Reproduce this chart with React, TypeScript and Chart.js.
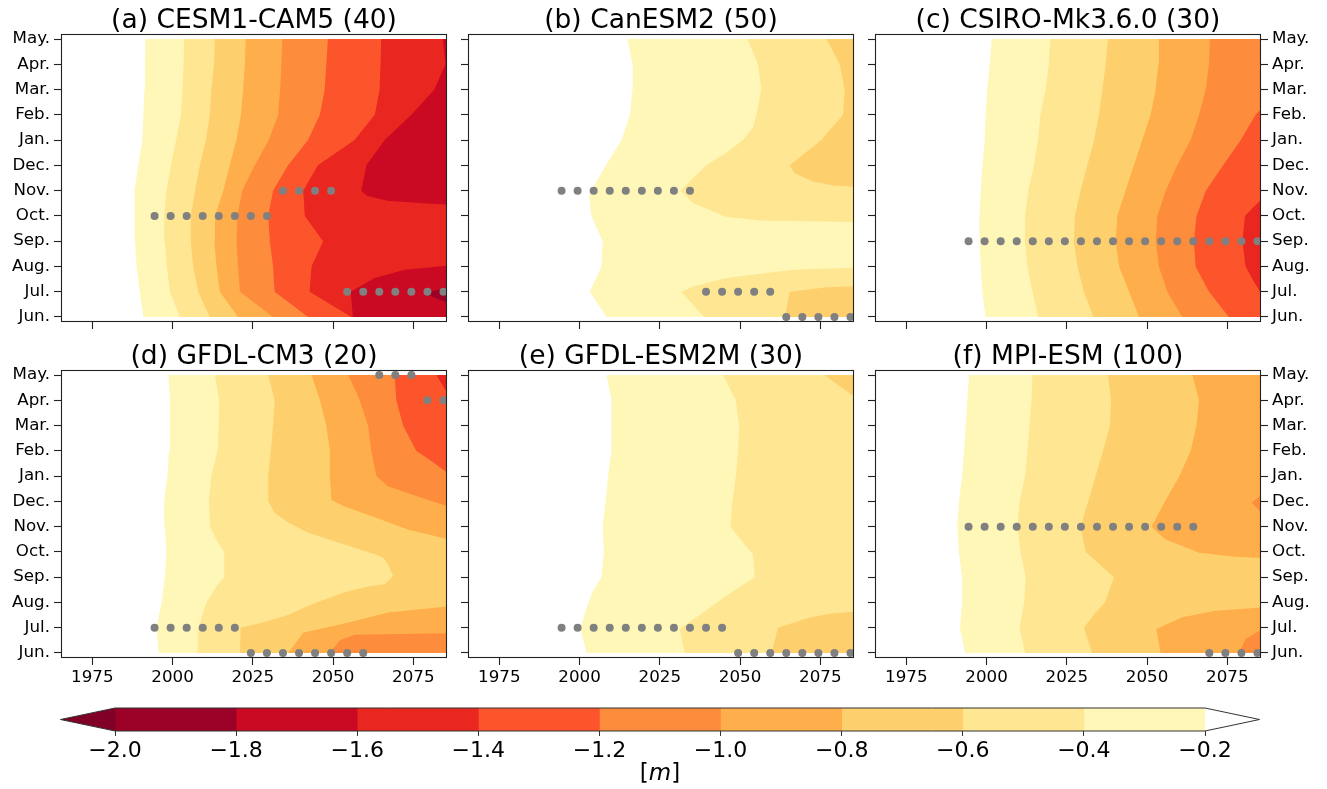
import React, { useEffect, useRef } from 'react';
import { Chart, registerables } from 'chart.js';

Chart.register(...registerables);
Chart.defaults.font.family = "'DejaVu Sans', sans-serif";
Chart.defaults.color = '#000';

// ------------------------------------------------------------------ data
const MONTHS = ['Jun.', 'Jul.', 'Aug.', 'Sep.', 'Oct.', 'Nov.', 'Dec.', 'Jan.', 'Feb.', 'Mar.', 'Apr.', 'May.'];
const YEAR_TICKS = [1975, 2000, 2025, 2050, 2075];
const YEAR_MIN = 1965.25;
const YEAR_MAX = 2085.5;
const MONTH_MIN = -0.2;
const MONTH_MAX = 11.2;
const EDGE = 2086; // contour lies beyond the right edge for that month
const LEVELS = [-2.0, -1.8, -1.6, -1.4, -1.2, -1.0, -0.8, -0.6, -0.4, -0.2];
const BAND_COLORS = [
  'rgb(155,0,38)', 'rgb(202,9,35)', 'rgb(233,38,31)', 'rgb(252,85,44)', 'rgb(253,141,60)',
  'rgb(254,174,74)', 'rgb(254,208,109)', 'rgb(255,230,146)', 'rgb(255,247,184)',
];
const UNDER_COLOR = 'rgb(128,0,38)';
const OVER_COLOR = '#ffffff';

// Contour boundaries (year where each level is crossed), listed from -0.2 m downwards.
// Plain arrays: one year per month Jun..May. Pair arrays: [month index, year].
const CESM_BOUNDS = [
  [1990.9, 1989.8, 1988.8, 1988.3, 1988.0, 1988.3, 1989.3, 1990.6, 1990.9, 1991.2, 1991.4, 1991.6],
  [2002.3, 1999.2, 1998.2, 1997.6, 1997.4, 1998.1, 1999.5, 2001.1, 2002.6, 2003.1, 2003.4, 2003.6],
  [2011.6, 2008.0, 2006.4, 2005.7, 2005.7, 2007.0, 2008.5, 2010.4, 2011.6, 2012.1, 2012.9, 2013.2],
  [2020.4, 2014.7, 2013.7, 2013.0, 2013.2, 2015.8, 2017.8, 2019.9, 2021.3, 2022.0, 2022.5, 2022.8],
  [2031.3, 2021.0, 2020.4, 2019.9, 2020.2, 2021.7, 2025.6, 2030.0, 2032.9, 2033.5, 2033.9, 2034.2],
  [2042.2, 2031.8, 2031.3, 2030.3, 2029.8, 2031.3, 2036.0, 2042.2, 2045.9, 2047.4, 2047.9, 2048.4],
  [2055.7, 2042.7, 2043.3, 2046.9, 2041.2, 2040.7, 2045.3, 2056.7, 2063.0, 2064.5, 2064.8, 2065.0],
  [[0, 2056.2], [1, 2055.5], [1.54, 2063.0], [1.87, 2072.3], [2.03, EDGE], [4.45, EDGE], [4.5, 2078.0], [4.6, 2067.0], [4.8, 2060.5], [5, 2058.8], [6, 2060.4], [7, 2066.1], [8, 2074.4], [9, 2081.6], [10, 2085.0], [11, 2084.2]],
  [[0.55, EDGE], [0.95, 2077.9], [1.15, EDGE]],
];
const CAN_BOUNDS = [
  [[0, 2008.4], [1, 2003.2], [2, 2006.8], [3, 2007.2], [4, 2003.7], [4.77, 2003.0], [5, 2003.6], [6, 2008.2], [7, 2013.1], [8, 2015.7], [9, 2016.5], [10, 2016.5], [11, 2014.9]],
  [[0, 2038.8], [1, 2031.7], [1.21, 2035.4], [1.54, 2045.7], [1.87, 2066.5], [1.95, EDGE], [3.76, EDGE], [3.82, 2056.1], [3.97, 2045.7], [4.5, 2035.4], [5, 2031.5], [5.5, 2035.4], [6, 2039.5], [6.5, 2045.7], [7, 2050.9], [7.5, 2054.0], [8, 2055.1], [9, 2056.6], [10, 2055.6], [11, 2052.3]],
  [[0, 2063.9], [1, 2065.5], [1.18, 2076.9], [1.22, EDGE], [5.15, EDGE], [5.2, 2078.9], [5.36, 2072.7], [5.69, 2067.0], [6, 2065.5], [7, 2075.3], [8, 2082.1], [9, 2082.6], [10, 2081.0], [11, 2076.9]],
];
const CSIRO_BOUNDS = [
  [1999.7, 1998.7, 1998.2, 1997.8, 1997.8, 1998.2, 1998.7, 1999.4, 1999.7, 2000.2, 2001.0, 2001.6],
  [2016.1, 2014.3, 2012.7, 2012.0, 2012.0, 2013.0, 2014.8, 2016.0, 2016.8, 2018.4, 2019.4, 2019.8],
  [2033.3, 2030.3, 2028.3, 2027.2, 2027.5, 2029.3, 2031.4, 2033.5, 2035.0, 2036.1, 2037.1, 2037.8],
  [2047.5, 2044.4, 2041.3, 2040.2, 2040.7, 2043.3, 2045.9, 2048.5, 2051.1, 2052.7, 2053.5, 2053.7],
  [2061.0, 2056.3, 2053.7, 2052.7, 2053.2, 2055.8, 2059.4, 2063.6, 2066.2, 2068.3, 2069.3, 2069.6],
  [[0, 2075.5], [1, 2069.3], [2, 2065.1], [3, 2064.6], [4, 2065.4], [5, 2068.3], [6, 2073.7], [7, 2079.2], [8, 2083.8], [8.3, EDGE]],
  [[0.8, EDGE], [1, 2085.2], [1.5, 2082.8], [2, 2080.7], [3, 2079.7], [4, 2080.5], [4.3, 2082.8], [4.6, 2085.2], [4.8, EDGE]],
];
const CM3_BOUNDS = [
  [1995.7, 1995.0, 1996.6, 1997.6, 1998.1, 1997.6, 1997.4, 1998.4, 1998.9, 1999.2, 1999.2, 1998.7],
  [[0, 2007.8], [1, 2008.0], [2, 2010.6], [2.7, 2014.0], [3, 2016.1], [4, 2016.1], [4.4, 2014.0], [5, 2011.7], [6, 2011.3], [7, 2012.1], [8, 2014.0], [9, 2014.4], [10, 2014.5], [11, 2013.2]],
  [[0, 2021.0], [1, 2021.2], [1.2, 2027.7], [1.5, 2036.0], [1.87, 2042.2], [2.4, 2053.6], [2.63, 2060.9], [2.72, 2066.1], [3.05, 2068.7], [3.5, 2067.1], [3.78, 2065.6], [3.91, 2063.0], [4.37, 2051.6], [4.76, 2042.2], [5.16, 2036.0], [5.55, 2031.8], [6, 2029.8], [7, 2029.8], [8, 2030.6], [9, 2031.3], [10, 2031.8], [11, 2029.8]],
  [[0, 2036.0], [0.8, 2040.7], [1.2, 2054.6], [1.6, 2067.1], [1.85, EDGE], [4.5, EDGE], [4.89, 2073.3], [5.42, 2061.9], [5.8, 2053.6], [6.05, 2049.5], [7, 2049.0], [8, 2049.0], [9, 2047.9], [10, 2045.9], [11, 2043.3]],
  [[0, 2049.0], [0.5, 2052.1], [0.72, 2056.7], [0.78, EDGE], [5.8, EDGE], [6.14, 2077.5], [6.6, 2067.1], [7, 2063.5], [8, 2061.9], [9, 2060.9], [10, 2058.3], [10.3, 2057.3], [11, 2054.7]],
  [[7.1, EDGE], [7.6, 2080.6], [8, 2075.9], [9, 2071.8], [10, 2069.7], [11, 2069.2]],
  [[10.2, EDGE], [11, 2082.2]],
];
const ESM2M_BOUNDS = [
  [[0, 2002.2], [0.95, 2000.3], [1.6, 2001.7], [2.4, 2004.0], [3, 2006.8], [4, 2007.6], [5, 2007.2], [6, 2008.1], [7, 2008.9], [8, 2009.9], [9, 2010.0], [10, 2009.9], [11, 2008.4]],
  [[0, 2032.8], [0.95, 2031.2], [1.6, 2038.5], [2.26, 2045.7], [3, 2054.6], [3.5, 2054.3], [3.91, 2054.0], [4.37, 2050.9], [5, 2047.0], [6, 2047.6], [7, 2048.7], [8, 2049.4], [9, 2049.7], [10, 2048.7], [11, 2044.7]],
  [[0, 2059.8], [1, 2061.8], [1.4, 2071.7], [1.55, 2077.9], [1.65, EDGE], [10.1, EDGE], [11, 2076.3]],
];
const MPI_BOUNDS = [
  [1993.3, 1991.7, 1992.4, 1992.4, 1991.4, 1990.9, 1991.4, 1992.4, 1993.0, 1993.5, 1994.0, 1994.5],
  [2012.0, 2010.3, 2011.7, 2012.2, 2010.6, 2009.6, 2010.3, 2012.0, 2012.7, 2013.4, 2014.0, 2014.3],
  [[0, 2032.9], [1, 2030.3], [1.6, 2034.0], [2, 2036.9], [3, 2039.7], [4, 2030.9], [5, 2029.3], [6, 2031.7], [7, 2034.0], [8, 2036.3], [9, 2038.4], [10, 2038.8], [11, 2037.8]],
  [[0, 2054.2], [0.95, 2052.9], [1.41, 2061.0], [1.67, 2071.4], [1.8, EDGE], [3.76, EDGE], [3.82, 2076.6], [3.97, 2066.2], [4.5, 2055.6], [5, 2051.4], [6, 2055.6], [7, 2060.1], [8, 2063.6], [9, 2065.4], [10, 2066.2], [11, 2064.1]],
  [[0, 2078.6], [0.55, 2080.7], [0.95, EDGE], [5.5, EDGE], [5.95, 2082.6], [6.3, EDGE]],
];

// Stippling: [month index, years]
const CESM_DOTS = [
  [5, [2034.4, 2039.4, 2044.4, 2049.4]],
  [4, [1994.4, 1999.4, 2004.4, 2009.4, 2014.4, 2019.4, 2024.4, 2029.4]],
  [1, [2054.4, 2059.4, 2064.4, 2069.4, 2074.4, 2079.4, 2084.4]],
];
const CAN_DOTS = [
  [5, [1994.4, 1999.4, 2004.4, 2009.4, 2014.4, 2019.4, 2024.4, 2029.4, 2034.4]],
  [1, [2039.4, 2044.4, 2049.4, 2054.4, 2059.4]],
  [0, [2064.4, 2069.4, 2074.4, 2079.4, 2084.4]],
];
const CSIRO_DOTS = [
  [3, [1994.4, 1999.4, 2004.4, 2009.4, 2014.4, 2019.4, 2024.4, 2029.4, 2034.4, 2039.4, 2044.4, 2049.4, 2054.4, 2059.4, 2064.4, 2069.4, 2074.4, 2079.4, 2084.4]],
];
const CM3_DOTS = [
  [11, [2064.4, 2069.4, 2074.4]],
  [10, [2079.4, 2084.4]],
  [1, [1994.4, 1999.4, 2004.4, 2009.4, 2014.4, 2019.4]],
  [0, [2024.4, 2029.4, 2034.4, 2039.4, 2044.4, 2049.4, 2054.4, 2059.4]],
];
const ESM2M_DOTS = [
  [1, [1994.4, 1999.4, 2004.4, 2009.4, 2014.4, 2019.4, 2024.4, 2029.4, 2034.4, 2039.4, 2044.4]],
  [0, [2049.4, 2054.4, 2059.4, 2064.4, 2069.4, 2074.4, 2079.4, 2084.4]],
];
const MPI_DOTS = [
  [5, [1994.4, 1999.4, 2004.4, 2009.4, 2014.4, 2019.4, 2024.4, 2029.4, 2034.4, 2039.4, 2044.4, 2049.4, 2054.4, 2059.4, 2064.4]],
  [0, [2069.4, 2074.4, 2079.4, 2084.4]],
];

const PANELS = [
  { title: '(a) CESM1-CAM5 (40)', bounds: CESM_BOUNDS, dots: CESM_DOTS, col: 0, row: 0 },
  { title: '(b) CanESM2 (50)', bounds: CAN_BOUNDS, dots: CAN_DOTS, col: 1, row: 0 },
  { title: '(c) CSIRO-Mk3.6.0 (30)', bounds: CSIRO_BOUNDS, dots: CSIRO_DOTS, col: 2, row: 0 },
  { title: '(d) GFDL-CM3 (20)', bounds: CM3_BOUNDS, dots: CM3_DOTS, col: 0, row: 1 },
  { title: '(e) GFDL-ESM2M (30)', bounds: ESM2M_BOUNDS, dots: ESM2M_DOTS, col: 1, row: 1 },
  { title: '(f) MPI-ESM (100)', bounds: MPI_BOUNDS, dots: MPI_DOTS, col: 2, row: 1 },
];

// ------------------------------------------------------------------ layout / style
const FRAME_LEFTS = [61, 468, 875];
const FRAME_TOPS = [34, 370];
const FRAME_W = 386;
const FRAME_H = 288;
const SIDE = 62;
const TITLE_SPACE = 34;
const XAXIS_SPACE = 35;
const FILL_TARGET = 2100;
const DOT_COLOR = '#808080';
const AXIS_COLOR = '#222';
const TICK_FONT = 16.7;
const TITLE_FONT = 26.5;

const toPoints = (b: any[]) =>
  typeof b[0] === 'number'
    ? b.map((yr: number, m: number) => ({ x: yr, y: m }))
    : b.map(([m, yr]: number[]) => ({ x: yr, y: m }));

const framePlugin = {
  id: 'frame',
  afterDatasetsDraw(chart: any) {
    const { ctx, chartArea } = chart;
    const { left, top, right, bottom } = chartArea;
    ctx.save();
    ctx.strokeStyle = AXIS_COLOR;
    ctx.lineWidth = 1.1;
    ctx.strokeRect(left + 0.5, top + 0.5, right - left - 1, bottom - top - 1);
    ctx.restore();
  },
};

function Panel({ spec }: { spec: any }) {
  const ref = useRef<HTMLCanvasElement>(null);
  const { col, row } = spec;
  const width = SIDE + FRAME_W + SIDE;
  const height = TITLE_SPACE + FRAME_H + XAXIS_SPACE;
  const left = FRAME_LEFTS[col] - SIDE;
  const top = FRAME_TOPS[row] - TITLE_SPACE;

  useEffect(() => {
    const datasets: any[] = [];
    spec.bounds.forEach((b: any[], i: number) => {
      datasets.push({
        data: toPoints(b),
        backgroundColor: BAND_COLORS[BAND_COLORS.length - 1 - i],
        borderColor: 'rgba(0,0,0,0)',
        borderWidth: 0,
        pointRadius: 0,
        pointHoverRadius: 0,
        showLine: true,
        tension: 0,
        fill: { value: FILL_TARGET },
        order: 30 - i,
      });
    });
    spec.dots.forEach(([m, years]: [number, number[]]) => {
      datasets.push({
        data: years.map((x) => ({ x, y: m })),
        showLine: false,
        pointRadius: 4,
        pointHoverRadius: 4,
        pointBackgroundColor: DOT_COLOR,
        pointBorderColor: DOT_COLOR,
        pointBorderWidth: 0,
        fill: false,
        order: 1,
      });
    });
    const tickGrid = {
      display: true,
      drawOnChartArea: false,
      drawTicks: true,
      tickLength: 7,
      tickWidth: 1.1,
      tickColor: AXIS_COLOR,
    };
    const monthTicks = (s: any) => {
      s.ticks = MONTHS.map((_, i) => ({ value: i }));
    };
    const rightAxis = col === 2;
    const scales: any = {
      x: {
        type: 'linear',
        position: 'bottom',
        min: YEAR_MIN,
        max: YEAR_MAX,
        afterBuildTicks: (s: any) => {
          s.ticks = YEAR_TICKS.map((v) => ({ value: v }));
        },
        afterFit: (s: any) => {
          s.height = XAXIS_SPACE;
        },
        grid: tickGrid,
        border: { display: false },
        ticks: {
          display: row === 1,
          autoSkip: false,
          maxRotation: 0,
          padding: 3,
          font: { size: TICK_FONT },
          color: '#000',
          callback: (v: number) => String(v),
        },
      },
      y: {
        type: 'linear',
        position: 'left',
        min: MONTH_MIN,
        max: MONTH_MAX,
        afterBuildTicks: monthTicks,
        afterFit: (s: any) => {
          s.width = SIDE;
        },
        grid: tickGrid,
        border: { display: false },
        ticks: {
          display: col === 0,
          autoSkip: false,
          padding: 4,
          font: { size: TICK_FONT },
          color: '#000',
          callback: (v: number) => MONTHS[v],
        },
      },
      y2: {
        type: 'linear',
        position: 'right',
        min: MONTH_MIN,
        max: MONTH_MAX,
        afterBuildTicks: monthTicks,
        afterFit: (s: any) => {
          s.width = SIDE;
        },
        grid: rightAxis ? tickGrid : { display: false },
        border: { display: false },
        ticks: {
          display: rightAxis,
          autoSkip: false,
          padding: 4,
          font: { size: TICK_FONT },
          color: '#000',
          callback: (v: number) => MONTHS[v],
        },
      },
    };
    const chart = new Chart(ref.current as HTMLCanvasElement, {
      type: 'line',
      data: { datasets },
      options: {
        indexAxis: 'y',
        animation: false,
        responsive: false,
        devicePixelRatio: 1,
        events: [],
        layout: { padding: 0, autoPadding: false },
        plugins: {
          legend: { display: false },
          tooltip: { enabled: false },
          title: {
            display: true,
            text: spec.title,
            color: '#000',
            font: { size: TITLE_FONT, weight: 'normal', lineHeight: 1 },
            padding: { top: 7.5, bottom: 0 },
          },
        },
        scales,
      } as any,
      plugins: [framePlugin],
    });
    return () => chart.destroy();
  }, [spec]);

  return (
    <canvas
      ref={ref}
      width={width}
      height={height}
      style={{ position: 'absolute', left, top, width, height }}
    />
  );
}

const CB_TOP = 690;
const CB_HEIGHT = 99;
const CB_BAR_LEFT = 115;
const CB_BAR_RIGHT = 1205;
const CB_PAD_TOP = 18;
const CB_AXIS_H = 58;
const CB_EXTEND = 0.05;

const extendPlugin = {
  id: 'extend',
  afterDatasetsDraw(chart: any) {
    const { ctx, chartArea, scales } = chart;
    const { top, bottom } = chartArea;
    const x0 = scales.x.getPixelForValue(LEVELS[0]);
    const x1 = scales.x.getPixelForValue(LEVELS[LEVELS.length - 1]);
    const ext = (x1 - x0) * CB_EXTEND;
    const mid = (top + bottom) / 2;
    ctx.save();
    ctx.fillStyle = UNDER_COLOR;
    ctx.beginPath();
    ctx.moveTo(x0 + 0.5, top);
    ctx.lineTo(x0 - ext, mid);
    ctx.lineTo(x0 + 0.5, bottom);
    ctx.closePath();
    ctx.fill();
    ctx.fillStyle = OVER_COLOR;
    ctx.beginPath();
    ctx.moveTo(x1, top);
    ctx.lineTo(x1 + ext, mid);
    ctx.lineTo(x1, bottom);
    ctx.closePath();
    ctx.fill();
    ctx.strokeStyle = '#333';
    ctx.lineWidth = 1;
    ctx.beginPath();
    ctx.moveTo(x0, top);
    ctx.lineTo(x1, top);
    ctx.lineTo(x1 + ext, mid);
    ctx.lineTo(x1, bottom);
    ctx.lineTo(x0, bottom);
    ctx.lineTo(x0 - ext, mid);
    ctx.closePath();
    ctx.stroke();
    ctx.restore();
  },
};

const fmtLevel = (v: number) => (v < 0 ? '\u2212' : '') + Math.abs(v).toFixed(1);

function Colorbar() {
  const ref = useRef<HTMLCanvasElement>(null);
  const width = 1327;
  useEffect(() => {
    const datasets = BAND_COLORS.map((c, i) => ({
      data: [[LEVELS[i], LEVELS[i + 1]]],
      backgroundColor: c,
      borderWidth: 0,
      barPercentage: 1,
      categoryPercentage: 1,
      grouped: false,
    }));
    const chart = new Chart(ref.current as HTMLCanvasElement, {
      type: 'bar',
      data: { labels: [''], datasets },
      options: {
        indexAxis: 'y',
        animation: false,
        responsive: false,
        devicePixelRatio: 1,
        events: [],
        layout: {
          padding: { left: CB_BAR_LEFT, right: width - CB_BAR_RIGHT, top: CB_PAD_TOP, bottom: 0 },
          autoPadding: false,
        },
        plugins: { legend: { display: false }, tooltip: { enabled: false } },
        scales: {
          x: {
            type: 'linear',
            min: LEVELS[0],
            max: LEVELS[LEVELS.length - 1],
            afterBuildTicks: (s: any) => {
              s.ticks = LEVELS.map((v) => ({ value: v }));
            },
            afterFit: (s: any) => {
              s.height = CB_AXIS_H;
            },
            grid: { display: true, drawOnChartArea: false, drawTicks: true, tickLength: 5, tickColor: '#333', tickWidth: 1 },
            border: { display: false },
            ticks: {
              autoSkip: false,
              maxRotation: 0,
              padding: 2,
              font: { size: 22 },
              color: '#000',
              callback: (v: number) => fmtLevel(v),
            },
          },
          y: { display: false },
        },
      } as any,
      plugins: [extendPlugin],
    });
    return () => chart.destroy();
  }, []);
  return (
    <canvas
      ref={ref}
      width={width}
      height={CB_HEIGHT}
      style={{ position: 'absolute', left: 0, top: CB_TOP, width, height: CB_HEIGHT }}
    />
  );
}

export default function App() {
  return (
    <div
      style={{
        position: 'absolute',
        left: 0,
        top: 0,
        width: 1327,
        height: 789,
        background: '#fff',
        overflow: 'hidden',
      }}
    >
      {PANELS.map((p) => (
        <Panel key={p.title} spec={p} />
      ))}
      <Colorbar />
      <div
        style={{
          position: 'absolute',
          left: 560,
          width: 200,
          top: 759,
          textAlign: 'center',
          fontFamily: "'DejaVu Sans', sans-serif",
          fontSize: 23,
          lineHeight: '26px',
          color: '#000',
        }}
      >
        [<i>m</i>]
      </div>
    </div>
  );
}
